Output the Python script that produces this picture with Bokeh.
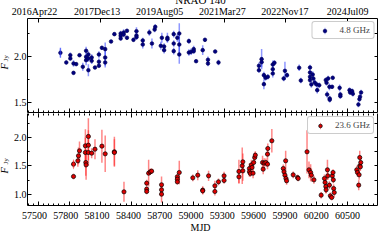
import math
from bokeh.plotting import figure
from bokeh.models import (Range1d, LinearAxis, FixedTicker, Legend, LegendItem,
                          Label, ColumnDataSource, PrintfTickFormatter)
from bokeh.layouts import column, row
from bokeh.embed import file_html
from bokeh.resources import INLINE

# ---------------- data ----------------
title_text = "NRAO 140"
label_48 = "4.8 GHz"
label_236 = "23.6 GHz"
x_label = "MJD"

date_tick_mjd = [57500, 58100, 58700, 59300, 59900, 60500]
date_tick_labels = ["2016Apr22", "2017Dec13", "2019Aug05", "2021Mar27", "2022Nov17", "2024Jul09"]
mjd_ticks = [57500, 57800, 58100, 58400, 58700, 59000, 59300, 59600, 59900, 60200, 60500]
flux_ticks_48 = [1.5, 2.0]
flux_ticks_236 = [1.0, 1.5, 2.0]

mjd_48 = [57714, 57771, 57810, 57810, 57841, 57841, 57867, 57899, 57931, 57963,
          57963, 57963, 57985, 57985, 57985, 58017, 58017, 58049, 58087, 58087,
          58087, 58116, 58148, 58148, 58148, 58205, 58237, 58298, 58298, 58298,
          58327, 58327, 58359, 58359, 58422, 58451, 58451, 58451, 58512, 58512,
          58576, 58601, 58627, 58633, 58687, 58697, 58719, 58719, 58751, 58751,
          58812, 58812, 58812, 58847, 58866, 58866, 58866, 58959, 58959, 58981,
          59006, 59006, 59029, 59093, 59115, 59144, 59144, 59214, 59246, 59638,
          59638, 59664, 59664, 59686, 59686, 59702, 59724, 59772, 59772, 59772,
          59788, 59878, 59890, 59910, 60028, 60044, 60133, 60133, 60133, 60133,
          60146, 60159, 60165, 60178, 60197, 60203, 60222, 60286, 60293, 60299,
          60309, 60321, 60324, 60324, 60347, 60353, 60420, 60427, 60427, 60516,
          60522, 60541, 60548, 60602, 60612, 60618, 60628]
flux_48 = [2.040, 1.935, 2.014, 1.978, 1.924, 1.822, 1.917, 2.014, 1.888, 2.062,
           1.996, 1.960, 2.022, 1.978, 1.851, 1.989, 1.953, 1.880, 2.022, 1.942,
           1.899, 2.094, 2.080, 1.989, 1.935, 2.163, 2.243, 2.250, 2.225, 2.196,
           2.261, 2.239, 2.279, 2.203, 2.181, 2.275, 2.228, 2.210, 2.174, 2.130,
           2.261, 2.141, 2.293, 2.322, 2.116, 2.203, 2.109, 2.069, 2.203, 2.188,
           2.243, 2.141, 2.058, 2.203, 2.250, 2.130, 2.022, 2.167, 2.043, 2.051,
           2.080, 2.058, 1.949, 2.069, 2.181, 1.964, 1.924, 2.054, 1.935, 1.899,
           1.851, 1.971, 1.938, 1.797, 1.699, 1.768, 1.779, 1.913, 1.862, 1.815,
           1.931, 1.761, 1.844, 1.797, 1.877, 1.739, 1.880, 1.826, 1.779, 1.743,
           1.696, 1.804, 1.761, 1.717, 1.696, 1.634, 1.688, 1.743, 1.714, 1.587,
           1.761, 1.670, 1.543, 1.529, 1.670, 1.768, 1.659, 1.587, 1.569, 1.634,
           1.609, 1.623, 1.594, 1.478, 1.536, 1.562, 1.609]
err_48 = [0.054, 0.022, 0.029, 0.022, 0.036, 0.018, 0.018, 0.018, 0.043, 0.043,
          0.036, 0.054, 0.036, 0.036, 0.065, 0.036, 0.036, 0.018, 0.036, 0.036,
          0.018, 0.022, 0.072, 0.090, 0.054, 0.018, 0.018, 0.029, 0.029, 0.022,
          0.036, 0.029, 0.022, 0.022, 0.022, 0.043, 0.029, 0.029, 0.029, 0.043,
          0.036, 0.054, 0.029, 0.029, 0.043, 0.054, 0.036, 0.036, 0.054, 0.029,
          0.036, 0.036, 0.036, 0.043, 0.110, 0.110, 0.100, 0.029, 0.036, 0.036,
          0.036, 0.029, 0.018, 0.054, 0.022, 0.036, 0.029, 0.018, 0.029, 0.036,
          0.029, 0.110, 0.054, 0.036, 0.054, 0.029, 0.029, 0.043, 0.043, 0.043,
          0.029, 0.029, 0.100, 0.029, 0.036, 0.029, 0.029, 0.029, 0.029, 0.029,
          0.036, 0.036, 0.029, 0.036, 0.029, 0.036, 0.029, 0.029, 0.029, 0.036,
          0.029, 0.036, 0.029, 0.029, 0.022, 0.022, 0.036, 0.029, 0.029, 0.029,
          0.029, 0.029, 0.029, 0.029, 0.029, 0.029, 0.029]

mjd_236 = [57841, 57841, 57883, 57889, 57899, 57956, 57956, 57960, 57963, 57985,
           57985, 57985, 58017, 58049, 58116, 58148, 58237, 58237, 58330, 58550,
           58550, 58550, 58569, 58585, 58598, 58694, 58694, 58694, 58847, 58847,
           58847, 58866, 58997, 59045, 59093, 59093, 59150, 59211, 59211, 59246,
           59300, 59300, 59444, 59444, 59476, 59482, 59482, 59546, 59546, 59555,
           59565, 59571, 59581, 59587, 59597, 59603, 59673, 59679, 59689, 59705,
           59721, 59721, 59724, 59763, 59874, 59881, 59890, 59897, 59900, 59906,
           59970, 60012, 60018, 60104, 60123, 60139, 60146, 60171, 60241, 60273,
           60279, 60286, 60289, 60302, 60305, 60321, 60330, 60343, 60349, 60356,
           60359, 60362, 60368, 60586, 60593, 60605, 60609, 60615, 60621, 60615,
           60625]
flux_236 = [1.532, 1.316, 1.591, 1.678, 1.766, 1.854, 1.737, 1.561, 1.520, 2.018,
            1.865, 1.737, 1.725, 1.795, 1.848, 1.713, 1.749, 1.737, 1.047, 1.199,
            1.094, 1.053, 1.374, 1.398, 1.409, 1.170, 1.082, 1.006, 1.310, 1.269,
            1.222, 1.386, 1.292, 1.339, 1.076, 1.064, 1.327, 1.152, 1.053, 1.222,
            1.327, 1.246, 1.404, 1.310, 1.503, 1.573, 1.415, 1.456, 1.398, 1.368,
            1.520, 1.474, 1.374, 1.561, 1.649, 1.690, 1.561, 1.444, 1.550, 1.561,
            1.532, 1.708, 1.807, 1.942, 1.456, 1.398, 1.339, 1.591, 1.281, 1.240,
            1.345, 1.298, 1.281, 1.749, 1.433, 1.386, 1.339, 1.257, 0.988, 1.281,
            1.211, 1.140, 1.082, 1.433, 1.327, 1.164, 0.977, 0.947, 1.327, 1.386,
            1.257, 1.105, 1.035, 1.433, 1.386, 1.164, 1.345, 1.503, 1.485, 1.649,
            1.561]
err_236 = [0.058, 0.047, 0.105, 0.146, 0.164, 0.290, 0.263, 0.234, 0.263, 0.320,
           0.263, 0.234, 0.088, 0.175, 0.290, 0.320, 0.263, 0.234, 0.175, 0.058,
           0.047, 0.047, 0.234, 0.058, 0.047, 0.146, 0.117, 0.146, 0.058, 0.047,
           0.047, 0.205, 0.058, 0.088, 0.070, 0.058, 0.088, 0.088, 0.070, 0.058,
           0.070, 0.058, 0.205, 0.117, 0.320, 0.146, 0.175, 0.088, 0.088, 0.058,
           0.088, 0.088, 0.088, 0.070, 0.088, 0.070, 0.117, 0.088, 0.088, 0.070,
           0.088, 0.088, 0.088, 0.205, 0.070, 0.088, 0.070, 0.175, 0.070, 0.070,
           0.058, 0.047, 0.047, 0.380, 0.146, 0.146, 0.117, 0.070, 0.058, 0.070,
           0.070, 0.117, 0.058, 0.175, 0.070, 0.070, 0.058, 0.047, 0.070, 0.058,
           0.058, 0.070, 0.088, 0.070, 0.070, 0.088, 0.088, 0.088, 0.070, 0.117,
           0.088]

# ---------------- layout constants (pixels) ----------------
FONT = "Liberation Serif"
X_RANGE = (57395, 60787)
TOTAL_W = 389
STRIP_W = 18          # column holding the rotated F_Jy labels
FRAME_L, FRAME_R = 31, 385
HDR_H = 25            # title + date labels
P1_H = 96             # frame 94 px
P2_H = 93             # frame 92 px
FTR_H = 27            # tick labels + MJD
BLUE_ERR = "#3344ff"
RED_ERR = "#ff2222"

# x range for the full-width header/footer so that data x maps as in the panels
_k = (X_RANGE[1] - X_RANGE[0]) / (FRAME_R - FRAME_L)
WIDE_X = (X_RANGE[0] - FRAME_L * _k, X_RANGE[1] + (TOTAL_W - FRAME_R) * _k)


def make_source(x, y, e):
    return ColumnDataSource(dict(x=x, y=y,
                                 lo=[a - b for a, b in zip(y, e)],
                                 hi=[a + b for a, b in zip(y, e)]))


def labeled_axis(ticks, minor, standoff=1, fmt=None):
    ax = LinearAxis(ticker=FixedTicker(ticks=ticks, minor_ticks=minor))
    if fmt:
        ax.formatter = PrintfTickFormatter(format=fmt)
    ax.axis_line_color = "black"
    ax.major_tick_in = 4
    ax.major_tick_out = 0
    ax.minor_tick_in = 2
    ax.minor_tick_out = 0
    ax.major_tick_line_color = "black"
    ax.minor_tick_line_color = "black"
    ax.major_label_text_font = FONT
    ax.major_label_text_font_size = "10px"
    ax.major_label_text_color = "black"
    ax.major_label_standoff = standoff
    return ax


def tick_axis(positions, length, line):
    # an axis that only draws (unlabelled) tick marks and takes no room
    ax = LinearAxis(ticker=FixedTicker(ticks=[], minor_ticks=positions))
    ax.axis_line_color = "black" if line else None
    ax.minor_tick_in = length
    ax.minor_tick_out = 0
    ax.minor_tick_line_color = "black"
    ax.major_tick_in = 0
    ax.major_tick_out = 0
    ax.major_label_standoff = 0
    ax.axis_label_standoff = 0
    return ax


def _finish(p):
    p.outline_line_color = None
    p.grid.visible = False
    p.background_fill_color = "white"
    p.border_fill_color = "white"
    return p


def bare_fig(width, height, xr=(0, 1)):
    p = figure(width=width, height=height, x_range=Range1d(*xr), y_range=Range1d(0, 1),
               output_backend="svg", toolbar_location=None,
               x_axis_location=None, y_axis_location=None, min_border=0,
               min_border_left=0, min_border_right=0, min_border_top=0, min_border_bottom=0)
    return _finish(p)


def panel_fig(height, yr, btop, bbot):
    p = figure(width=TOTAL_W - STRIP_W, height=height, x_range=Range1d(*X_RANGE),
               y_range=Range1d(*yr), output_backend="svg", toolbar_location=None,
               x_axis_location=None, y_axis_location=None, min_border=0,
               min_border_left=FRAME_L - STRIP_W, min_border_right=TOTAL_W - FRAME_R,
               min_border_top=btop, min_border_bottom=bbot)
    return _finish(p)


def add_y_axes(p, ticks, lo, hi):
    minor = [lo + 0.25 * i for i in range(int(round((hi - lo) / 0.25)) + 1)]
    p.add_layout(labeled_axis(ticks, minor, standoff=1, fmt="%.1f"), "left")
    p.add_layout(tick_axis(minor, 3, True), "right")


def make_legend(label, renderers):
    lg = Legend(items=[LegendItem(label=label, renderers=renderers)],
                location="top_right", margin=3, padding=3, spacing=0,
                glyph_height=9, glyph_width=18, label_height=9, label_standoff=6,
                label_text_font=FONT, label_text_font_size="9px",
                border_line_color="#999999", border_line_width=1,
                background_fill_color="white", background_fill_alpha=1)
    if "border_radius" in Legend.properties():
        lg.border_radius = 3
    return lg


def text_label(x, y, text, px, style="normal", rotated=False, align="left",
               baseline="alphabetic", x_units="screen"):
    # x, y: anchor in pixels from the frame's left / bottom edge
    return Label(x=x, y=y, x_units=x_units, y_units="screen", text=text,
                 angle=math.pi / 2 if rotated else 0.0, text_font=FONT,
                 text_font_size=f"{px}px", text_font_style=style,
                 text_baseline=baseline, text_align=align, text_color="black")


mjd_minor = list(range(57400, 60800, 50))

# ---------------- header: title + date labels ----------------
hdr = bare_fig(TOTAL_W, HDR_H, WIDE_X)
hdr.add_layout(text_label((FRAME_L + FRAME_R) / 2, HDR_H - 13, title_text, 11,
                          align="center", baseline="bottom"))
for m, d in zip(date_tick_mjd, date_tick_labels):
    hdr.add_layout(text_label(m, 1, d, 10, align="center", baseline="bottom", x_units="data"))

# ---------------- top panel ----------------
p1 = panel_fig(P1_H, (1.391, 2.413), 1, 1)
p1.add_layout(tick_axis(date_tick_mjd, 4, True), "above")
p1.add_layout(tick_axis(mjd_ticks, 4, True), "below")
p1.add_layout(tick_axis(mjd_minor, 2, False), "below")
add_y_axes(p1, flux_ticks_48, 1.25, 2.5)

s48 = make_source(mjd_48, flux_48, err_48)
p1.segment(x0="x", y0="lo", x1="x", y1="hi", source=s48,
           line_color=BLUE_ERR, line_alpha=0.55, line_width=1.5)
r48 = p1.scatter(x="x", y="y", source=s48, size=3.6, marker="circle",
                 fill_color="#000080", line_color="#00005a", line_width=0.7)
proxy48 = p1.ellipse(x=mjd_48[:1], y=flux_48[:1], width=1.5, height=10,
                     width_units="screen", height_units="screen",
                     fill_color=BLUE_ERR, fill_alpha=0.55, line_color=None)
p1.add_layout(make_legend(label_48, [proxy48, r48]))

s1 = bare_fig(STRIP_W, P1_H)
s1.add_layout(text_label(STRIP_W - 1, 121 - 78, "F", 10, style="italic", rotated=True,
                         baseline="bottom"))
s1.add_layout(text_label(STRIP_W - 1, 121 - 70, "Jy", 7, rotated=True, baseline="bottom"))

# ---------------- bottom panel ----------------
p2 = panel_fig(P2_H, (0.807, 2.421), 0, 1)
p2.add_layout(tick_axis(mjd_ticks, 4, False), "above")
p2.add_layout(tick_axis(mjd_minor, 2, False), "above")
p2.add_layout(tick_axis(mjd_ticks, 4, True), "below")
p2.add_layout(tick_axis(mjd_minor, 2, False), "below")
add_y_axes(p2, flux_ticks_236, 0.75, 2.5)

s236 = make_source(mjd_236, flux_236, err_236)
p2.segment(x0="x", y0="lo", x1="x", y1="hi", source=s236,
           line_color=RED_ERR, line_alpha=0.55, line_width=1.5)
r236 = p2.scatter(x="x", y="y", source=s236, size=4.2, marker="circle",
                  fill_color="#dd0000", line_color="black", line_width=0.7)
proxy236 = p2.ellipse(x=mjd_236[:1], y=flux_236[:1], width=1.5, height=10,
                      width_units="screen", height_units="screen",
                      fill_color=RED_ERR, fill_alpha=0.55, line_color=None)
p2.add_layout(make_legend(label_236, [proxy236, r236]))

s2 = bare_fig(STRIP_W, P2_H)
s2.add_layout(text_label(STRIP_W - 1, 214 - 182, "F", 10, style="italic", rotated=True,
                         baseline="bottom"))
s2.add_layout(text_label(STRIP_W - 1, 214 - 173, "Jy", 7, rotated=True, baseline="bottom"))

# ---------------- footer: tick labels + MJD ----------------
ftr = bare_fig(TOTAL_W, FTR_H, WIDE_X)
for m in mjd_ticks:
    ftr.add_layout(text_label(m, 241 - 223, str(m), 10, align="center", x_units="data"))
ftr.add_layout(text_label((FRAME_L + FRAME_R) / 2, 1, x_label, 10, align="center",
                          baseline="bottom"))

layout = column(hdr, row(s1, p1), row(s2, p2), ftr, margin=(-8, -8, -8, -8))
open("out.html", "w").write(file_html(layout, INLINE))
